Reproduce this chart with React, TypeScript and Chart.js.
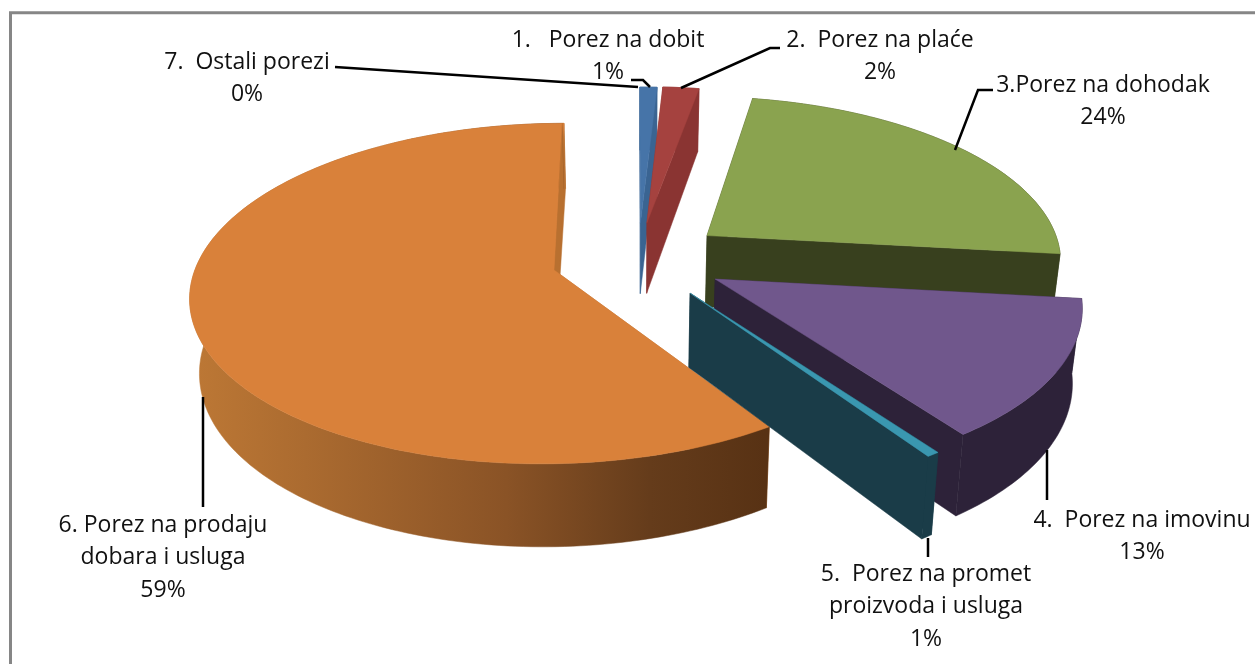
import React, { useEffect, useRef } from "react";
import { Chart, registerables } from "chart.js";

Chart.register(...registerables);

// Data (the labels show the rounded shares)
const categories = [
  ["1.   Porez na dobit"],
  ["2.  Porez na plaće"],
  ["3.Porez na dohodak"],
  ["4.  Porez na imovinu"],
  ["5.  Porez na promet", "proizvoda i usluga"],
  ["6. Porez na prodaju", "dobara i usluga"],
  ["7.  Ostali porezi"],
];
const shares = [0.9, 1.9, 24, 13.3, 0.5, 59.3, 0.1];

// Styles
const topColors = ["#4674a8", "#a5423f", "#8aa34f", "#70578c", "#3a97b0", "#d9813a", "#d9813a"];
const sideColors = ["#3a6492", "#8a3432", "#38401e", "#2d2239", "#1a3c48", "#b87030", "#b87030"];
const explode = [
  [0.241, -0.292],
  [0.26, -0.294],
  [0.432, -0.212],
  [0.447, 0.054],
  [0.376, 0.136],
  [0, 0],
  [0, 0],
];
const drawOrder = [6, 0, 1, 2, 5, 3, 4];
const labelPos = [
  [608, 40],
  [880, 40],
  [1103, 85],
  [1142, 520],
  [926, 574],
  [163, 525],
  [247, 62],
];
const leaders = [
  [[631, 80], [643, 80], [650, 87]],
  [[780, 48], [770, 48], [681, 88]],
  [[993, 90], [978, 90], [955, 150]],
  [[1047, 450], [1047, 500]],
  [[928, 538], [928, 557]],
  [[203, 397], [203, 507]],
  [[335, 67], [638, 87]],
];
const frameLine = [[10.5, 664], [10.5, 12.8], [1255, 12.8]];
const FONT = '23px "Open Sans"';
const LINE_H = 32.5;

const VANISH_X = 636;
const PERSP = 0.1386;
const X_SCALE = 1.33;
const Y_SCALE = 0.6185;
const DEPTH = 73;
const DEPTH_PERSP = 0.12;
const DEPTH_SHRINK = 0.022;

const pie3d = {
  id: "pie3d",
  beforeDatasetsDraw(chart: any) {
    const ctx = chart.ctx;
    const arcs = chart.getDatasetMeta(0).data;

    const project = (arc: any, u: number, v: number, z: number) => {
      const k = arc.outerRadius * X_SCALE;
      const a = arc.outerRadius * Y_SCALE;
      const d = 1 - PERSP * v;
      let x = VANISH_X + (arc.x + k * u - VANISH_X) / d;
      let y = arc.y + (a * v) / d;
      if (z) {
        x = VANISH_X + (x - VANISH_X) * (1 - DEPTH_SHRINK);
        y += DEPTH / (1 - DEPTH_PERSP * v);
      }
      return [x, y];
    };
    const fillPoly = (pts: number[][], fill: any) => {
      ctx.beginPath();
      pts.forEach((p, i) => (i ? ctx.lineTo(p[0], p[1]) : ctx.moveTo(p[0], p[1])));
      ctx.closePath();
      ctx.fillStyle = fill;
      ctx.fill();
      ctx.strokeStyle = fill;
      ctx.lineWidth = 0.5;
      ctx.stroke();
    };

    drawOrder.forEach((i) => {
      const arc = arcs[i];
      const [su, sv] = explode[i];
      const start = arc.startAngle + Math.PI / 2;
      const end = arc.endAngle + Math.PI / 2;
      const steps = Math.max(2, Math.ceil((end - start) / 0.02));
      const rim = (z: number) => {
        const out: number[][] = [];
        for (let s = 0; s <= steps; s++) {
          const t = start + ((end - start) * s) / steps;
          out.push(project(arc, su + Math.sin(t), sv - Math.cos(t), z));
        }
        return out;
      };
      const top = rim(0);
      const bottom = rim(1);
      const hubTop = project(arc, su, sv, 0);
      const hubBottom = project(arc, su, sv, 1);

      // cut face at the start of the slice
      fillPoly([hubTop, top[0], bottom[0], hubBottom], sideColors[i]);

      // outer wall
      let wall: any = sideColors[i];
      if (i === 5) {
        wall = ctx.createLinearGradient(190, 0, 765, 0);
        wall.addColorStop(0, "#bd7835");
        wall.addColorStop(0.2, "#ab6b30");
        wall.addColorStop(0.55, "#8a5326");
        wall.addColorStop(0.8, "#653c1b");
        wall.addColorStop(1, "#583214");
      }
      fillPoly([...top, ...bottom.slice().reverse()], wall);

      // cut face at the end of the slice
      fillPoly([hubTop, top[steps], bottom[steps], hubBottom], sideColors[i]);

      // top face
      fillPoly([hubTop, ...top], topColors[i]);
    });
    return false;
  },
  afterDraw(chart: any) {
    const ctx = chart.ctx;
    ctx.save();

    const stroke = (line: number[][]) => {
      ctx.beginPath();
      line.forEach((p, i) => (i ? ctx.lineTo(p[0], p[1]) : ctx.moveTo(p[0], p[1])));
      ctx.stroke();
    };

    ctx.strokeStyle = "#868686";
    ctx.lineWidth = 3;
    stroke(frameLine);

    ctx.strokeStyle = "#000";
    ctx.lineWidth = 2.5;
    leaders.forEach(stroke);

    ctx.fillStyle = "#111";
    ctx.font = FONT;
    ctx.textAlign = "center";
    ctx.textBaseline = "middle";
    categories.forEach((lines, i) => {
      const [x, y] = labelPos[i];
      const all = [...lines, `${Math.round(shares[i])}%`];
      all.forEach((t, j) => ctx.fillText(t, x, y + j * LINE_H));
    });
    ctx.restore();
  },
};

export default function App() {
  const ref = useRef<HTMLCanvasElement>(null);
  useEffect(() => {
    const chart = new Chart(ref.current as any, {
      type: "pie",
      data: {
        labels: categories.map((c) => c.join(" ")),
        datasets: [{ data: shares, backgroundColor: topColors, borderWidth: 0 }],
      },
      options: {
        animation: false,
        responsive: false,
        layout: { padding: { left: 284, right: 431, top: 0, bottom: 124 } },
        plugins: { legend: { display: false }, tooltip: { enabled: false } },
      },
      plugins: [pie3d as any],
    });
    return () => chart.destroy();
  }, []);
  return (
    <canvas
      ref={ref}
      width={1255}
      height={664}
      style={{ position: "fixed", left: 0, top: 0, width: 1255, height: 664, background: "#fff" }}
    />
  );
}
